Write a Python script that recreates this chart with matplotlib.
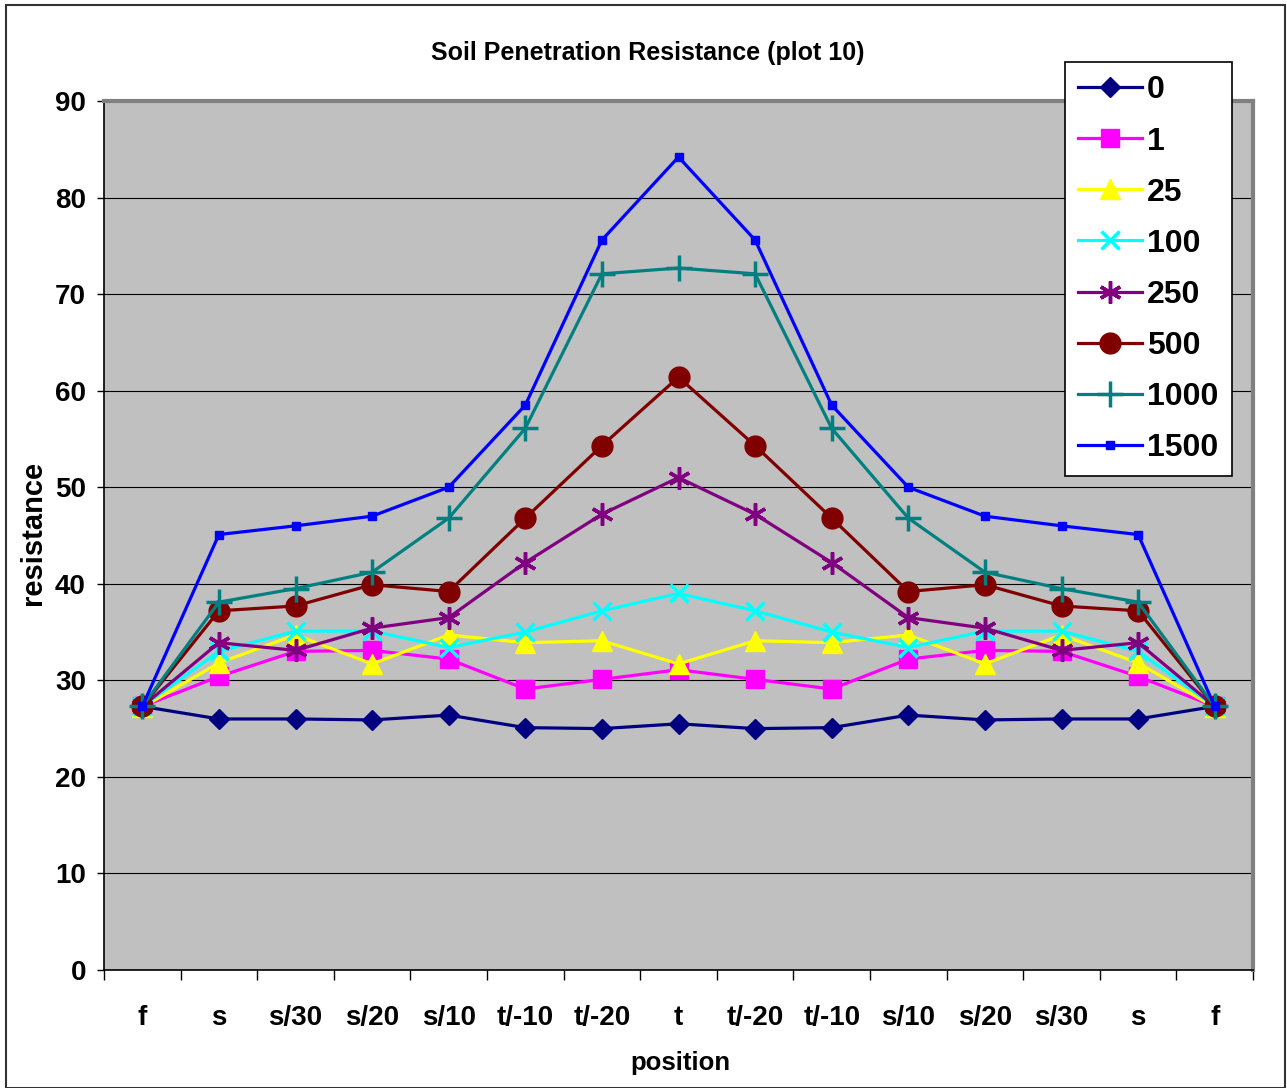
import matplotlib
matplotlib.use("Agg")
import matplotlib.pyplot as plt
from matplotlib import font_manager
from matplotlib.patches import Rectangle
import numpy as np

# Penetration resistance readings along the transect
positions = ["f", "s", "s/30", "s/20", "s/10", "t/-10", "t/-20", "t",
             "t/-20", "t/-10", "s/10", "s/20", "s/30", "s", "f"]
series_names = ["0", "1", "25", "100", "250", "500", "1000", "1500"]

r0 = [27.3, 26.0, 26.0, 25.9, 26.4, 25.1, 25.0, 25.5, 25.0, 25.1, 26.4, 25.9, 26.0, 26.0, 27.3]
r1 = [27.3, 30.4, 33.0, 33.1, 32.2, 29.1, 30.1, 31.1, 30.1, 29.1, 32.2, 33.1, 33.0, 30.4, 27.3]
r25 = [27.2, 31.8, 34.7, 31.7, 34.7, 33.9, 34.1, 31.7, 34.1, 33.9, 34.7, 31.7, 34.7, 31.8, 27.2]
r100 = [27.3, 33.0, 35.1, 35.1, 33.4, 35.0, 37.2, 39.0, 37.2, 35.0, 33.4, 35.1, 35.1, 33.0, 27.3]
r250 = [27.3, 33.9, 33.1, 35.4, 36.5, 42.2, 47.2, 51.0, 47.2, 42.2, 36.5, 35.4, 33.1, 33.9, 27.3]
r500 = [27.3, 37.2, 37.7, 39.9, 39.2, 46.8, 54.3, 61.4, 54.3, 46.8, 39.2, 39.9, 37.7, 37.2, 27.3]
r1000 = [27.3, 38.1, 39.5, 41.2, 46.8, 56.1, 72.1, 72.7, 72.1, 56.1, 46.8, 41.2, 39.5, 38.1, 27.3]
r1500 = [27.3, 45.1, 46.0, 47.0, 50.0, 58.5, 75.6, 84.2, 75.6, 58.5, 50.0, 47.0, 46.0, 45.1, 27.3]

y_ticks = [0, 10, 20, 30, 40, 50, 60, 70, 80, 90]

all_series = [r0, r1, r25, r100, r250, r500, r1000, r1500]
styles = [
    dict(color="#000080", marker="D", ms=10),
    dict(color="#FF00FF", marker="s", ms=13),
    dict(color="#FFFF00", marker="^", ms=14),
    dict(color="#00FFFF", marker="x", ms=13, mew=2.5),
    dict(color="#800080", marker=(6, 2, 0), ms=16, mew=2.5),
    dict(color="#800000", marker="o", ms=15),
    dict(color="#008080", marker="+", ms=19, mew=2.5),
    dict(color="#0000FF", marker="s", ms=6),
]

available = {f.name for f in font_manager.fontManager.ttflist}
base_font = "Liberation Sans" if "Liberation Sans" in available else "DejaVu Sans"
plt.rcParams["font.family"] = [base_font, "DejaVu Sans"]

W, H = 1287, 1088
fig = plt.figure(figsize=(W / 100, H / 100), dpi=100)
fig.patch.set_facecolor("white")

left, right, top, bottom = 104, 1253, 101, 970
ax = fig.add_axes([left / W, 1 - bottom / H, (right - left) / W, (bottom - top) / H])
ax.set_facecolor("#C0C0C0")

x = np.arange(len(positions))
for name, vals, st in zip(series_names, all_series, styles):
    ax.plot(x, vals, color=st["color"], lw=2.3, marker=st["marker"],
            ms=st["ms"], mew=st.get("mew", 1), mfc=st["color"], mec=st["color"],
            label=name, zorder=3)

ax.set_xlim(-0.5, len(positions) - 0.5)
ax.set_ylim(0, 90)

# horizontal gridlines
ax.set_yticks(y_ticks)
ax.set_yticklabels([str(v) for v in y_ticks], fontsize=20, fontweight="bold")
ax.yaxis.grid(True, color="black", lw=0.8)
ax.set_axisbelow(True)
ax.tick_params(axis="y", length=5, width=1, pad=8, direction="out")

# category boundaries as ticks, names centered between them
ax.set_xticks(np.arange(-0.5, len(positions)))
ax.set_xticklabels([])
ax.set_xticks(x, minor=True)
ax.set_xticklabels(positions, minor=True, fontsize=20, fontweight="bold")
ax.tick_params(axis="x", which="major", length=7, width=1, direction="out")
ax.tick_params(axis="x", which="minor", length=0, pad=25)

for s in ("top", "right"):
    ax.spines[s].set_color("#808080")
    ax.spines[s].set_linewidth(3)
for s in ("left", "bottom"):
    ax.spines[s].set_color("black")
    ax.spines[s].set_linewidth(1.2)

fig.text(648 / W, 1 - 53 / H, "Soil Penetration Resistance (plot 10)",
         ha="center", va="center", fontsize=18, fontweight="bold")
fig.text(33 / W, 1 - 533 / H, "resistance", rotation=90,
         ha="center", va="center", fontsize=21, fontweight="bold")
fig.text(680 / W, 1 - 1063 / H, "position",
         ha="center", va="center", fontsize=18.5, fontweight="bold")

leg = ax.legend(loc="upper left", bbox_to_anchor=(1065 / W, 1 - 62 / H),
                bbox_transform=fig.transFigure, borderaxespad=0,
                frameon=True, fancybox=False, framealpha=1, edgecolor="black",
                prop=dict(weight="bold", size=23),
                handlelength=2.0, handletextpad=0.15, borderpad=0.42,
                labelspacing=0.66)
leg.get_frame().set_linewidth(1.2)
leg.set_zorder(10)

# outer chart frame
fig.patches.append(Rectangle((6 / W, 0.5 / H), (1285 - 6) / W, (H - 5.5) / H,
                             transform=fig.transFigure, fill=False,
                             edgecolor="#333333", lw=1.5))

fig.savefig("out.png", dpi=100)
